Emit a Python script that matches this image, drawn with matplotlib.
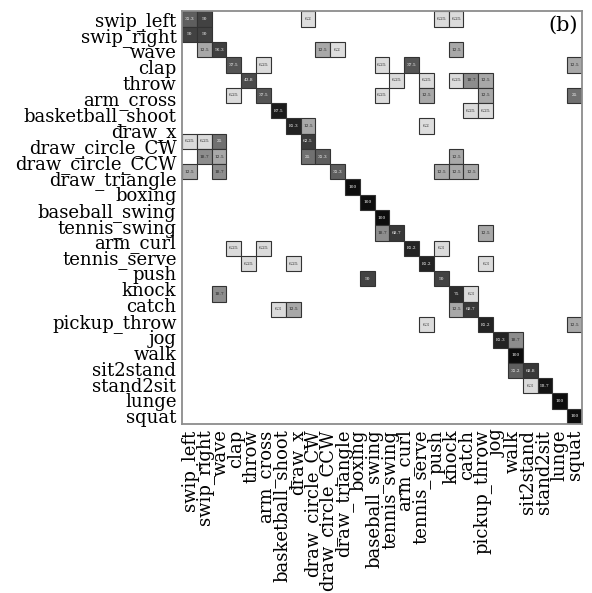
import numpy as np
import matplotlib
matplotlib.use("Agg")
import matplotlib.pyplot as plt
from matplotlib.colors import LinearSegmentedColormap, Normalize

# matrix classes (27, including one unlabeled class) and the 26 tick labels shown
n_classes = 27
tick_labels = ["swip_left", "swip_right", "wave", "clap", "throw", "arm_cross",
               "basketball_shoot", "draw_x", "draw_circle_CW", "draw_circle_CCW",
               "draw_triangle", "boxing", "baseball_swing", "tennis_swing",
               "arm_curl", "tennis_serve", "push", "knock", "catch",
               "pickup_throw", "jog", "walk", "sit2stand", "stand2sit",
               "lunge", "squat"]

# non-zero cells of the confusion matrix (row = true, col = predicted)
cell_rows = [0, 0, 0, 0, 0,
             1, 1,
             2, 2, 2, 2, 2,
             3, 3, 3, 3, 3,
             4, 4, 4, 4, 4, 4,
             5, 5, 5, 5, 5, 5,
             6, 6, 6,
             7, 7, 7,
             8, 8, 8, 8,
             9, 9, 9, 9, 9,
             10, 10, 10, 10, 10, 10,
             11, 12, 13,
             14, 14, 14,
             15, 15, 15, 15,
             16, 16, 16, 16,
             17, 17,
             18, 18, 18,
             19, 19, 19, 19,
             20, 20, 20,
             21, 21, 22, 23, 23, 24, 24, 25, 26]
cell_cols = [0, 1, 8, 17, 18,
             0, 1,
             1, 2, 9, 10, 18,
             3, 5, 13, 15, 26,
             4, 14, 16, 18, 19, 20,
             3, 5, 13, 16, 20, 26,
             6, 19, 20,
             7, 8, 16,
             0, 1, 2, 8,
             1, 2, 8, 9, 18,
             0, 2, 10, 17, 18, 19,
             11, 12, 13,
             13, 14, 20,
             3, 5, 15, 17,
             4, 7, 16, 20,
             12, 17,
             2, 18, 19,
             6, 7, 18, 19,
             16, 20, 26,
             21, 22, 22, 22, 23, 23, 24, 25, 26]
cell_values = [31.3, 50, 6.2, 6.25, 6.25,
               50, 50,
               12.5, 56.3, 12.5, 6.2, 12.5,
               37.5, 6.25, 6.25, 37.5, 12.5,
               43.8, 6.25, 6.25, 6.25, 18.7, 12.5,
               6.25, 37.5, 6.25, 12.5, 12.5, 25,
               87.5, 6.25, 6.25,
               81.3, 12.5, 6.2,
               6.25, 6.25, 25, 62.5,
               18.7, 12.5, 25, 31.3, 12.5,
               12.5, 18.7, 31.3, 12.5, 12.5, 12.5,
               100, 100, 100,
               18.7, 68.7, 12.5,
               6.25, 6.25, 81.2, 6.3,
               6.25, 6.25, 81.2, 6.3,
               50, 50,
               18.7, 75, 6.3,
               6.3, 12.5, 12.5, 68.7,
               6.3, 81.2, 12.5,
               81.3, 18.7, 100, 31.2, 68.8, 6.3, 93.7, 100, 100]

plt.rcParams['font.family'] = ['DejaVu Serif']

# grey ramp: light for small values, near black for 100
cmap = LinearSegmentedColormap.from_list(
    "cm_grey",
    [(0.0, (0.97, 0.97, 0.97)), (0.0625, (0.86, 0.86, 0.86)),
     (0.125, (0.66, 0.66, 0.66)), (0.187, (0.55, 0.55, 0.55)),
     (0.25, (0.44, 0.44, 0.44)), (0.31, (0.37, 0.37, 0.37)),
     (0.5, (0.26, 0.26, 0.26)), (0.69, (0.22, 0.22, 0.22)),
     (0.81, (0.14, 0.14, 0.14)), (1.0, (0.05, 0.05, 0.05))])
norm = Normalize(vmin=0, vmax=100)

fig = plt.figure(figsize=(5.92, 5.93), dpi=100)
ax = fig.add_axes([182 / 592, 1 - 424 / 593, 400 / 592, (424 - 11.4) / 593])

rows = np.array(cell_rows)
cols = np.array(cell_cols)
vals = np.array(cell_values)
ax.bar(cols, np.ones_like(vals), bottom=rows - 0.5, width=1.0,
       color=cmap(norm(vals)), edgecolor='#333333', linewidth=0.8)

for r, c, v in zip(cell_rows, cell_cols, cell_values):
    ax.text(c, r, f"{v:g}", ha='center', va='center', fontsize=3.2,
            color='white' if v >= 25 else '#222222')

ax.set_xlim(-0.5, n_classes - 0.5)
ax.set_ylim(n_classes - 0.5, -0.5)

tick_pos = np.linspace(0, n_classes - 1, len(tick_labels))
ax.set_xticks(tick_pos)
ax.set_xticklabels(tick_labels, rotation=90, fontsize=13)
ax.set_yticks(tick_pos)
ax.set_yticklabels(tick_labels, fontsize=13)
ax.tick_params(length=0, pad=4)

for s in ax.spines.values():
    s.set_color('#8c8c8c')
    s.set_linewidth(1.3)

ax.text(0.99, 0.99, '(b)', transform=ax.transAxes, ha='right', va='top',
        fontsize=15)

fig.savefig("out.png", dpi=100)
